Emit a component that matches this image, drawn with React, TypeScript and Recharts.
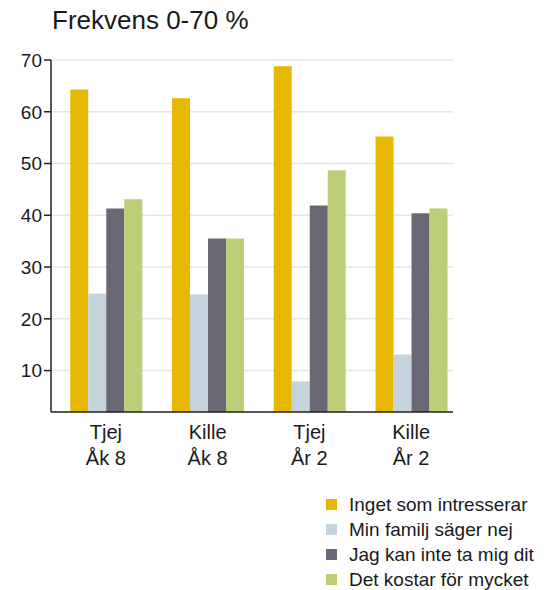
import React from 'react';
import { BarChart, Bar, XAxis, YAxis, CartesianGrid } from 'recharts';

const categories = ['Tjej\nÅk 8', 'Kille\nÅk 8', 'Tjej\nÅr 2', 'Kille\nÅr 2'];
const seriesNames = ['Inget som intresserar', 'Min familj säger nej', 'Jag kan inte ta mig dit', 'Det kostar för mycket'];
const ingetSomIntresserar = [64.3, 62.6, 68.8, 55.2];
const minFamiljSagerNej = [24.9, 24.7, 7.9, 13.1];
const jagKanInteTaMigDit = [41.3, 35.5, 41.9, 40.4];
const detKostarForMycket = [43.1, 35.5, 48.7, 41.3];
const yTicks = [10, 20, 30, 40, 50, 60, 70];

const colors = ['#E6B800', '#C5D3DC', '#6A6872', '#BDCE79'];
const FONT = '"Liberation Sans", Arial, sans-serif';

const data = categories.map((c, i) => ({
  name: c,
  s0: ingetSomIntresserar[i],
  s1: minFamiljSagerNej[i],
  s2: jagKanInteTaMigDit[i],
  s3: detKostarForMycket[i],
}));

// two-line category label
const CategoryTick = (props: any) => {
  const { x, y, payload } = props;
  const lines = String(payload.value).split('\n');
  return (
    <text x={x} y={y} textAnchor="middle" fill="#1a1a1a" fontSize={20} fontFamily={FONT}>
      {lines.map((l, i) => (
        <tspan key={i} x={x} dy={i === 0 ? 19 : 26}>{l}</tspan>
      ))}
    </text>
  );
};

const App: React.FC = () => {
  return (
    <div style={{ position: 'absolute', left: 0, top: 0, width: 550, height: 590, background: '#fff', fontFamily: FONT }}>
      <div style={{ position: 'absolute', left: 52, top: 5, fontSize: 26, color: '#1a1a1a' }}>Frekvens 0-70 %</div>
      <BarChart
        width={550}
        height={590}
        data={data}
        margin={{ top: 60, right: 97, left: 10, bottom: 118 }}
        barCategoryGap="15%"
        barGap={0}
      >
        <CartesianGrid vertical={false} stroke="#E2E7EE" strokeWidth={1.5} />
        <XAxis
          dataKey="name"
          height={60}
          tick={<CategoryTick />}
          tickLine={false}
          axisLine={{ stroke: '#222', strokeWidth: 1.5 }}
          padding={{ left: 4, right: -9 }}
          interval={0}
        />
        <YAxis
          width={41}
          domain={[2, 70]}
          ticks={yTicks}
          allowDataOverflow
          tick={{ fill: '#1a1a1a', fontSize: 19, fontFamily: FONT }}
          tickLine={{ stroke: '#222', strokeWidth: 1.5 }}
          tickSize={7}
          axisLine={{ stroke: '#222', strokeWidth: 1.5 }}
        />
        {['s0', 's1', 's2', 's3'].map((k, i) => (
          <Bar key={k} dataKey={k} name={seriesNames[i]} fill={colors[i]} isAnimationActive={false} />
        ))}
      </BarChart>
      <div style={{ position: 'absolute', left: 326, top: 492 }}>
        {seriesNames.map((n, i) => (
          <div key={n} style={{ display: 'flex', alignItems: 'center', height: 25, fontSize: 19, color: '#1a1a1a' }}>
            <span style={{ display: 'inline-block', width: 11, height: 11, background: colors[i], marginRight: 12 }} />
            {n}
          </div>
        ))}
      </div>
    </div>
  );
};

export default App;
